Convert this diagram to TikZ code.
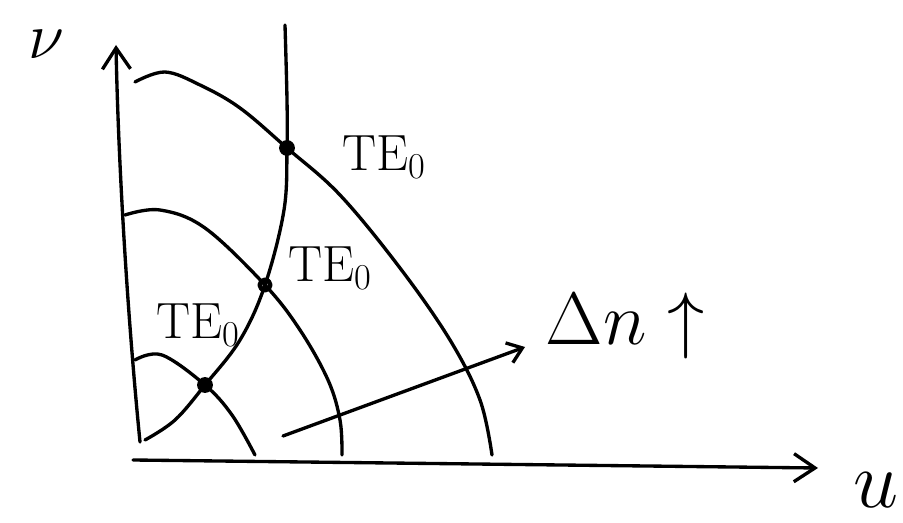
\documentclass[tikz,border=0pt]{standalone}
\usepackage{amsmath,amssymb,graphicx}
\usetikzlibrary{arrows.meta}

\tikzset{
  dot/.style={circle, fill, inner sep=0pt, minimum size=9pt},
  ring/.style={circle, draw, fill=white, line width=2.6pt, inner sep=0pt, minimum size=6pt},
  lab/.style={font=\fontsize{29}{29}\selectfont, inner sep=0pt}
}

\begin{document}
\begin{tikzpicture}[x=0.02cm, y=-0.02cm, line width=1.9pt, line cap=round, line join=round]
\useasboundingbox (0,0) rectangle (903,523);

% Crossing points of the TE0 curve
\node[dot] (ptop) at (287,148) {};
\node[ring] (pmid) at (265,285) {};
\node[dot] (plow) at (205,385) {};

% Axes
\coordinate (orig) at (140,442);
\coordinate (vtip) at (116,45);
\coordinate (hstart) at (133,460);
\coordinate (utip) at (818,468);
\draw[-{Straight Barb[length=12pt, width=16pt]}] (orig) .. controls (126,300) and (118,150) .. (vtip);
\draw[-{Straight Barb[length=12pt, width=16pt]}] (hstart) -- (utip);
\node[inner sep=0pt] (vlab) at (46,44) {\scalebox{1.5}{\Huge $\nu$}};
\node (ulab) at (876,490) {\scalebox{1.85}{\Huge $u$}};

% TE0 curve
\draw plot[smooth, tension=0.6] coordinates {(285,25) (287,100) (ptop.center) (284,210) (pmid.center) (240,340) (plow.center) (175,420) (145,440)};

% Circles of constant V
\draw plot[smooth, tension=0.6] coordinates {(135,82) (165,72) (200,85) (240,108) (ptop.center) (340,195) (400,268) (450,340) (480,400) (492,455)};
\draw plot[smooth, tension=0.6] coordinates {(125,215) (160,210) (205,228) (pmid.center) (300,330) (328,380) (340,420) (342,455)};
\draw plot[smooth, tension=0.6] coordinates {(135,360) (162,355) (plow.center) (232,415) (255,455)};

% Labels
\node[lab] (te1) at (384,157) {TE$_0$};
\node[lab] (te2) at (330,268) {TE$_0$};
\node[lab] (te3) at (198,325) {TE$_0$};

% Increasing index step
\coordinate (astart) at (283,436);
\coordinate (atip) at (525,347);
\node[anchor=west, inner sep=0pt] (dn) at (544,326) {\scalebox{1.7}{\Huge $\Delta n\uparrow$}};
\draw[-{Straight Barb[length=8pt, width=12pt]}] (astart) -- (atip);

\end{tikzpicture}
\end{document}
